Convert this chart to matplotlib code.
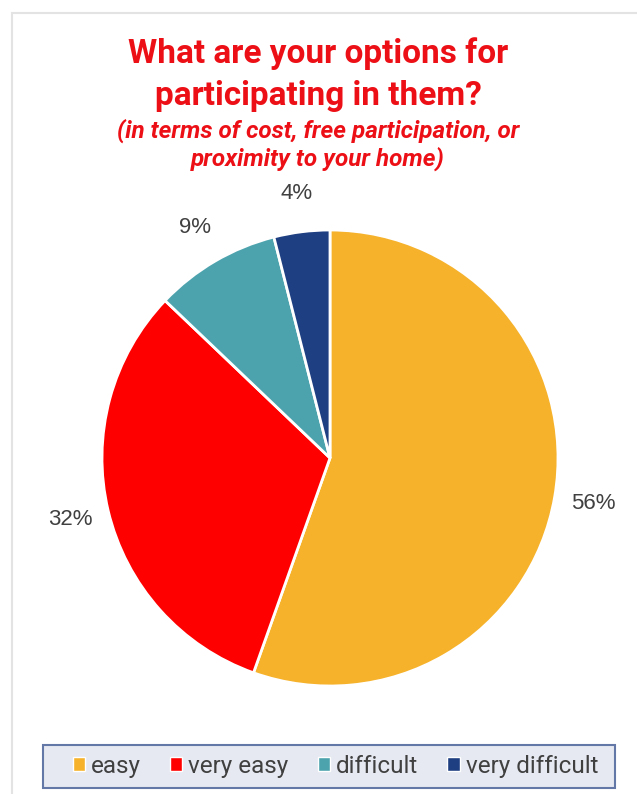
import matplotlib.pyplot as plt
from matplotlib.patches import Rectangle

# survey answers, share of respondents (%)
categories = ['easy', 'very easy', 'difficult', 'very difficult']
shares = [56, 32, 9, 4]
colors = ['#F6B22A', '#FF0000', '#4DA3AD', '#1E3F82']

title_lines = ['What are your options for', 'participating in them?']
subtitle_lines = ['(in terms of cost, free participation, or', 'proximity to your home)']

W, H = 637, 794
fig = plt.figure(figsize=(W / 100, H / 100), dpi=100)

# card outline (light gray frame on top and left)
fig.patches.append(Rectangle((12 / W, -0.05), 1.2, 1 - 13 / H + 0.05,
                             transform=fig.transFigure, facecolor='white',
                             edgecolor='#E3E3E3', linewidth=1.5, zorder=-10))

# titles
title_red = '#EC1016'
for y, line in zip([54, 96], title_lines):
    fig.text(318 / W, 1 - y / H, line, ha='center', va='center', fontsize=24,
             fontweight='bold', color=title_red, family='Roboto')
for y, line in zip([131, 159], subtitle_lines):
    fig.text(318 / W, 1 - y / H, line, ha='center', va='center', fontsize=17.5,
             fontweight='bold', style='italic', color=title_red, family='Roboto')

# pie
cx, cy, r = 330, 458, 228
ax = fig.add_axes([(cx - r) / W, 1 - (cy + r) / H, 2 * r / W, 2 * r / H])
wedges, _, autotexts = ax.pie(shares, colors=colors, startangle=90, counterclock=False,
                              radius=1, autopct=lambda p: '', pctdistance=1.17,
                              wedgeprops=dict(edgecolor='white', linewidth=2))
for t, v in zip(autotexts, shares):
    t.set_text(f'{v}%')
    t.set_fontsize(16)
    t.set_color('#404040')
    t.set_family('Liberation Sans')
ax.set_xlim(-1, 1)
ax.set_ylim(-1, 1)
ax.set_aspect('equal')
ax.axis('off')

# legend box
lx0, lx1, ly0, ly1 = 43, 615, 745, 788
fig.patches.append(Rectangle((lx0 / W, 1 - ly1 / H), (lx1 - lx0) / W, (ly1 - ly0) / H,
                             transform=fig.transFigure, facecolor='#E6E9F1',
                             edgecolor='#6478A8', linewidth=1.5, zorder=1))
leg = fig.legend(wedges, categories, loc='center', ncol=4, frameon=False,
                 bbox_to_anchor=((lx0 + lx1) / 2 / W + 0.01, 1 - (ly0 + ly1) / 2 / H),
                 handlelength=0.5, handleheight=0.5, handletextpad=0.25,
                 columnspacing=1.2, prop={'family': 'Roboto', 'size': 17.5})
for t in leg.get_texts():
    t.set_color('#404040')
for h in leg.legend_handles:
    h.set_edgecolor('white')
    h.set_linewidth(1)

fig.savefig('out.png', dpi=100)
